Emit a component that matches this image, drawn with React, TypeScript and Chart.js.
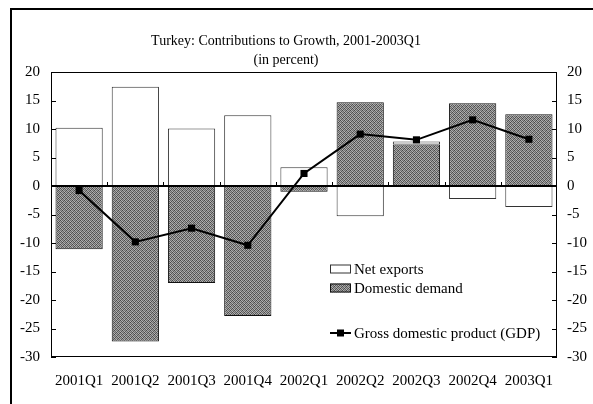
import { useEffect, useRef } from 'react';
import { Chart, registerables } from 'chart.js';

Chart.register(...registerables);

const categories = ['2001Q1', '2001Q2', '2001Q3', '2001Q4', '2002Q1', '2002Q2', '2002Q3', '2002Q4', '2003Q1'];
const domesticDemand = [-11.1, -27.3, -17.0, -22.8, -1.0, 14.7, 7.3, 14.5, 12.6];
const netExports = [10.2, 17.4, 10.1, 12.4, 3.3, -5.3, 0.5, -2.3, -3.7];
const gdp = [-0.8, -9.8, -7.4, -10.4, 2.2, 9.1, 8.1, 11.6, 8.2];
const yMin = -30;
const yMax = 20;
const yStep = 5;

const titleLines = ['Turkey: Contributions to Growth, 2001-2003Q1', '(in percent)'];
const legendLabels = ['Net exports', 'Domestic demand', 'Gross domestic product (GDP)'];

const FONT_FAMILY = '"Liberation Serif", "Times New Roman", serif';
const FONT_SIZE = 15;
const TITLE_SIZE = 14;
const DD_COLOR = '#7f7f7f';

function makeDither(): CanvasPattern | string {
  const c = document.createElement('canvas');
  c.width = 4;
  c.height = 4;
  const g = c.getContext('2d');
  if (!g) return DD_COLOR;
  const shades = [
    ['#4a4a4a', '#b0b0b0', '#6a6a6a', '#9c9c9c'],
    ['#a4a4a4', '#5c5c5c', '#b8b8b8', '#525252'],
    ['#727272', '#989898', '#484848', '#acacac'],
    ['#b4b4b4', '#585858', '#a0a0a0', '#666666'],
  ];
  for (let r = 0; r < 4; r++) {
    for (let k = 0; k < 4; k++) {
      g.fillStyle = shades[r][k];
      g.fillRect(k, r, 1, 1);
    }
  }
  const p = g.createPattern(c, 'repeat');
  return p || DD_COLOR;
}

export default function App() {
  const ref = useRef<HTMLCanvasElement | null>(null);

  useEffect(() => {
    if (!ref.current) return;
    const font = { family: FONT_FAMILY, size: FONT_SIZE };
    const dither = makeDither();

    const decor = {
      id: 'decor',
      beforeDraw(chart: any) {
        const ctx = chart.ctx;
        ctx.save();
        ctx.fillStyle = '#fff';
        ctx.fillRect(0, 0, chart.width, chart.height);
        ctx.fillStyle = '#000';
        ctx.fillRect(10, 8, 2, chart.height - 8);
        ctx.fillRect(10, 8, chart.width - 10, 2);
        ctx.restore();
      },
      afterDatasetsDraw(chart: any) {
        const ctx = chart.ctx;
        const a = chart.chartArea;
        const y = chart.scales.y;
        const x = chart.scales.x;
        ctx.save();
        ctx.strokeStyle = '#000';
        ctx.lineWidth = 1;
        ctx.strokeRect(a.left + 0.5, a.top + 0.5, a.right - a.left - 1, a.bottom - a.top - 1);
        ctx.beginPath();
        for (let v = yMin; v <= yMax; v += yStep) {
          const py = Math.round(y.getPixelForValue(v)) + 0.5;
          ctx.moveTo(a.left, py);
          ctx.lineTo(a.left + 5, py);
          ctx.moveTo(a.right, py);
          ctx.lineTo(a.right - 5, py);
        }
        const zy = y.getPixelForValue(0);
        const n = categories.length;
        for (let i = 1; i < n; i++) {
          const px = Math.round((x.getPixelForValue(i - 1) + x.getPixelForValue(i)) / 2) + 0.5;
          ctx.moveTo(px, zy);
          ctx.lineTo(px, zy - 4);
        }
        ctx.stroke();
        ctx.lineWidth = 2;
        ctx.beginPath();
        ctx.moveTo(a.left, zy);
        ctx.lineTo(a.right, zy);
        ctx.stroke();
        ctx.restore();
      },
      afterDraw(chart: any) {
        const ctx = chart.ctx;
        ctx.save();
        ctx.fillStyle = '#000';
        ctx.font = `${TITLE_SIZE}px ${FONT_FAMILY}`;
        ctx.textAlign = 'center';
        ctx.textBaseline = 'middle';
        ctx.fillText(titleLines[0], 286, 41);
        ctx.fillText(titleLines[1], 286, 60);

        ctx.font = `${FONT_SIZE}px ${FONT_FAMILY}`;
        ctx.textAlign = 'left';
        const ix = 330, iw = 21, ih = 9, tx = 354;
        const ys = [269, 288, 333];
        ctx.lineWidth = 1;
        ctx.fillStyle = '#fff';
        ctx.fillRect(ix, ys[0] - ih / 2, iw, ih);
        ctx.strokeStyle = '#333';
        ctx.strokeRect(ix + 0.5, ys[0] - ih / 2 + 0.5, iw - 1, ih - 1);
        ctx.fillStyle = dither;
        ctx.fillRect(ix, ys[1] - ih / 2, iw, ih);
        ctx.strokeStyle = '#111';
        ctx.strokeRect(ix + 0.5, ys[1] - ih / 2 + 0.5, iw - 1, ih - 1);
        ctx.strokeStyle = '#000';
        ctx.lineWidth = 2;
        ctx.beginPath();
        ctx.moveTo(ix, ys[2]);
        ctx.lineTo(ix + iw, ys[2]);
        ctx.stroke();
        ctx.fillStyle = '#000';
        ctx.fillRect(ix + iw / 2 - 3.5, ys[2] - 3.5, 7, 7);
        for (let i = 0; i < 3; i++) {
          ctx.fillText(legendLabels[i], tx, ys[i] + 1);
        }
        ctx.restore();
      },
    };

    const tickCommon = { font, color: '#000', stepSize: yStep };

    const chart = new Chart(ref.current, {
      type: 'bar',
      data: {
        labels: categories,
        datasets: [
          {
            type: 'line',
            label: legendLabels[2],
            data: gdp,
            borderColor: '#000',
            borderWidth: 2,
            pointStyle: 'rect',
            pointRadius: 5,
            pointBackgroundColor: '#000',
            pointBorderColor: '#000',
            pointBorderWidth: 0,
            tension: 0,
            order: 0,
          } as any,
          {
            label: legendLabels[1],
            data: domesticDemand,
            backgroundColor: dither,
            borderColor: '#111',
            borderWidth: 1,
            borderSkipped: false,
            stack: 's',
            order: 1,
          },
          {
            label: legendLabels[0],
            data: netExports,
            backgroundColor: '#fff',
            borderColor: '#333',
            borderWidth: 1,
            borderSkipped: false,
            stack: 's',
            order: 1,
          },
        ],
      },
      options: {
        animation: false,
        responsive: false,
        maintainAspectRatio: false,
        datasets: { bar: { categoryPercentage: 1, barPercentage: 0.84 } },
        layout: { padding: { top: 72, left: 0, right: 0, bottom: 0 } },
        plugins: { legend: { display: false }, title: { display: false }, tooltip: { enabled: false } },
        scales: {
          x: {
            stacked: true,
            grid: { display: false, drawTicks: false },
            border: { display: false },
            ticks: { font, color: '#000', padding: 15, maxRotation: 0, autoSkip: false },
            afterFit(s: any) { s.height = 47; },
          },
          y: {
            stacked: true,
            min: yMin,
            max: yMax,
            grid: { display: false, drawTicks: false },
            border: { display: false },
            ticks: { ...tickCommon, padding: 11 },
            afterFit(s: any) { s.width = 51; },
          },
          y2: {
            position: 'right',
            min: yMin,
            max: yMax,
            grid: { display: false, drawTicks: false },
            border: { display: false },
            ticks: { ...tickCommon, padding: 10 },
            afterFit(s: any) { s.width = 36; },
          },
        },
      } as any,
      plugins: [decor],
    });
    return () => chart.destroy();
  }, []);

  return (
    <div style={{ position: 'fixed', left: 0, top: 0, width: 593, height: 404, background: '#fff' }}>
      <canvas ref={ref} width={593} height={404} style={{ display: 'block', width: 593, height: 404 }} />
    </div>
  );
}
